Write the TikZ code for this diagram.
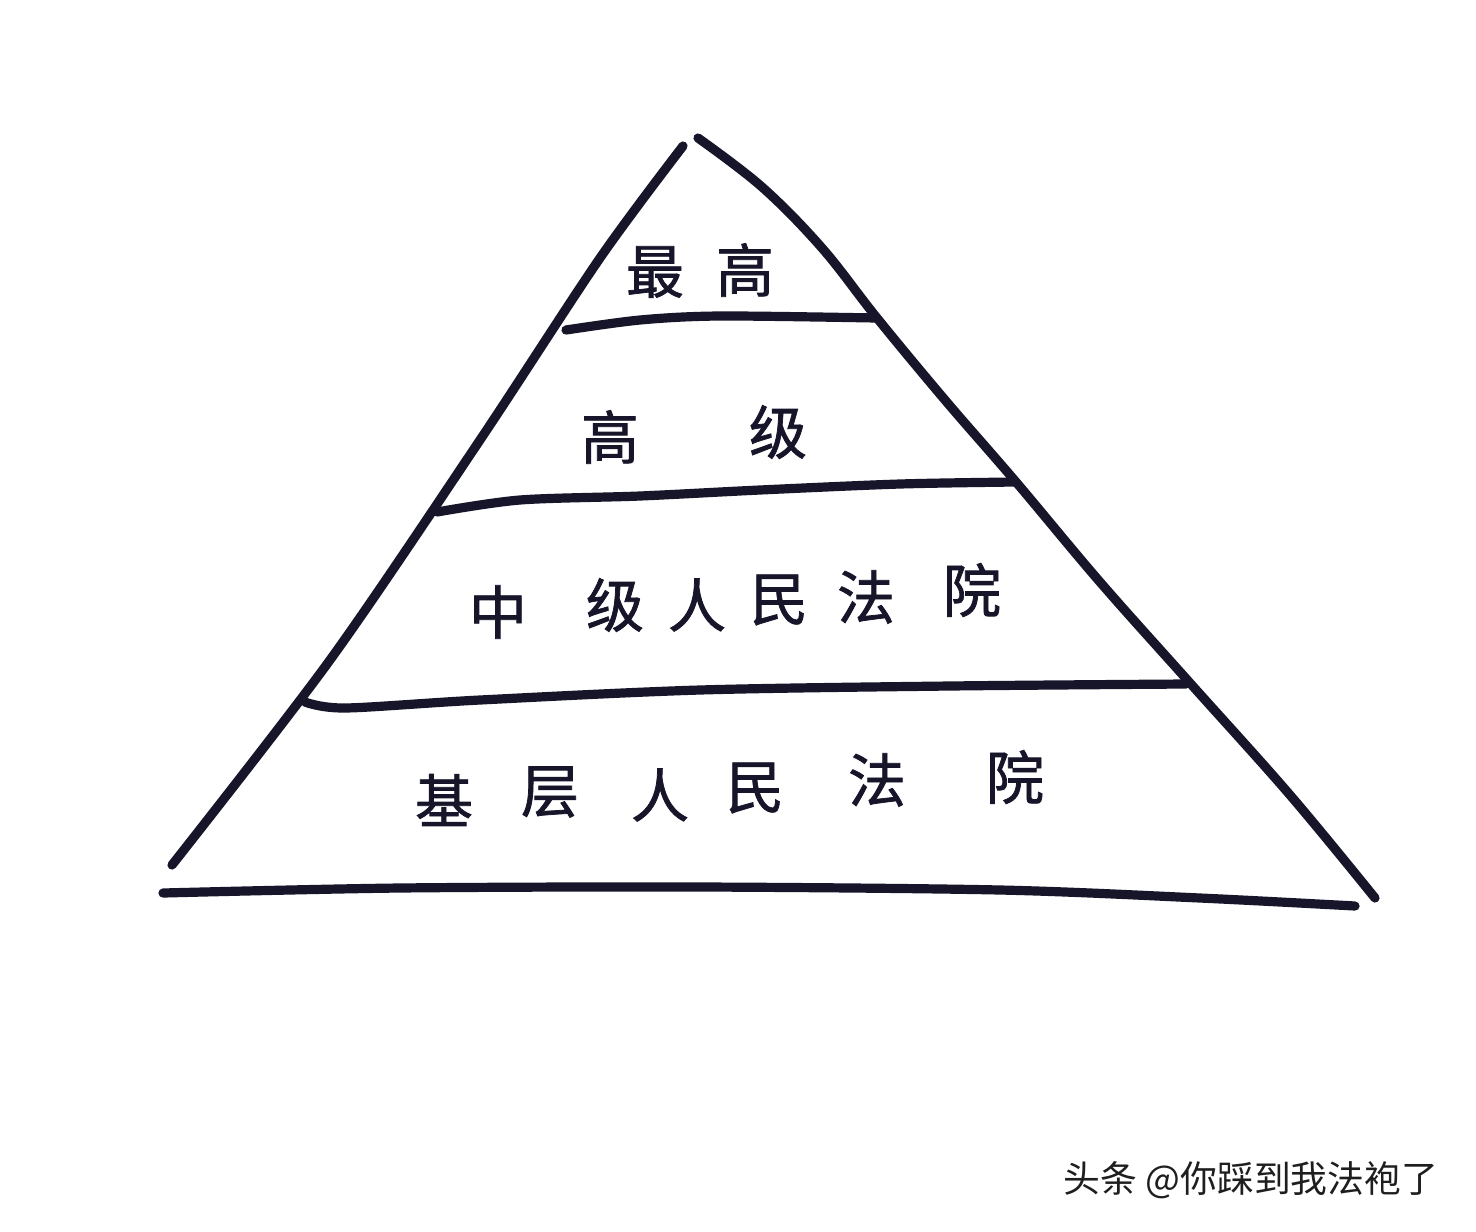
\documentclass[tikz,border=0pt]{standalone}
\usepackage{fontspec}
\newfontfamily\cjk[BoldFont={Noto Sans CJK SC},BoldFeatures={FakeBold=1.3}]{Noto Sans CJK SC}
\definecolor{ink}{HTML}{17152A}
\definecolor{wm}{HTML}{1E1E1E}
\tikzset{
  pen/.style={draw=ink, line width=4.6pt, line cap=round, line join=round},
  hand/.style={text=ink, font=\cjk\bfseries\fontsize{29}{29}\selectfont, inner sep=0pt},
  wmtext/.style={text=wm, font=\cjk\fontsize{18.4}{18.4}\selectfont, inner sep=0pt}
}
\begin{document}
\begin{tikzpicture}[x=0.5pt,y=-0.5pt]
\useasboundingbox[fill=white] (0,0) rectangle (1476,1231);
% sides
\draw[pen] plot[smooth, tension=0.5] coordinates {(683,146) (600,258) (480,440) (330,660) (172,865)};
\draw[pen] plot[smooth, tension=0.6] coordinates {(698,138) (762,187) (822,248) (877,318) (945,400) (1016,482) (1100,582) (1190,683) (1290,795) (1375,898)};
% bands
\draw[pen] plot[smooth, tension=0.5] coordinates {(566,330) (640,320) (720,316) (876,318)};
\draw[pen] plot[smooth, tension=0.5] coordinates {(437,512) (520,500) (640,496) (760,490) (900,484) (1016,482)};
\draw[pen] plot[smooth, tension=0.5] coordinates {(305,702) (345,708) (480,700) (700,690) (950,686) (1186,684)};
\draw[pen] plot[smooth, tension=0.5] coordinates {(163,893) (400,888) (700,887) (1000,890) (1200,898) (1355,906)};
% labels
\node[hand] (t1a) at (655,272) {最};
\node[hand] (t1b) at (745,270) {高};
\node[hand] (t2a) at (610,437) {高};
\node[hand] (t2b) at (778,432) {级};
\node[hand] (t3a) at (498,612) {中};
\node[hand] (t3b) at (615,605) {级};
\node[hand] (t3c) at (697,605) {人};
\node[hand] (t3d) at (779,600) {民};
\node[hand] (t3e) at (866,597) {法};
\node[hand] (t3f) at (972,590) {院};
\node[hand] (t4a) at (444,800) {基};
\node[hand] (t4b) at (550,792) {层};
\node[hand] (t4c) at (660,795) {人};
\node[hand] (t4d) at (755,788) {民};
\node[hand] (t4e) at (877,780) {法};
\node[hand] (t4f) at (1015,777) {院};
% watermark
\node[wmtext] (wmark) at (1251,1180) {头条 @你踩到我法袍了};
\end{tikzpicture}
\end{document}
